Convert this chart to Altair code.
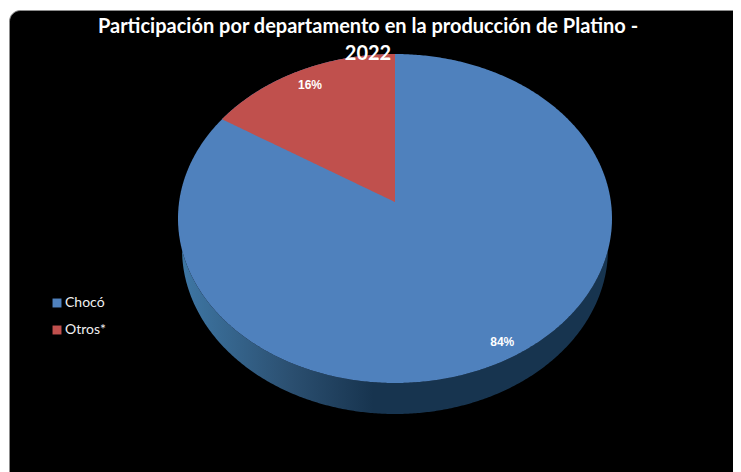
import numpy as np
import pandas as pd
import altair as alt

# ---- values
categories = ["Chocó", "Otros*"]
shares = [84, 16]
share_labels = ["84%", "16%"]
title_lines = ["Participación por departamento en la producción de Platino -", "2022"]

# ---- styling and pie geometry (page pixels)
colors = ["#4F81BD", "#C0504D"]
CX, CY, RX, RY = 395.0, 218.5, 217.0, 164.5
TILT = 0.1      # perspective of the pie plane
K = RX * 0.995
BASE_CY, BASE_RX, BASE_RY = 249.0, 213.0, 165.0
W, H = 725, 464


def project(angle_deg, r=1.0):
    """Point of the tilted pie at clockwise angle from 12 o'clock."""
    a = np.radians(angle_deg)
    u, v = r * np.sin(a), r * np.cos(a)
    d = 1 + TILT * v
    return CX + K * u / d, CY - RY * (v + TILT) / d


def half(x, rx=RX, ry=RY):
    return ry * np.sqrt(np.clip(1 - ((x - CX) / rx) ** 2, 0, 1))


t = np.linspace(-np.pi / 2, np.pi / 2, 361)
xs = CX + RX * np.sin(t)

face = pd.DataFrame({"x": xs, "y": CY - half(xs), "y2": CY + half(xs), "seg": categories[0]})

# wedge of "Otros*" ends at the angle given by its share, counter-clockwise from the top
edge_x, edge_y = project(-shares[1] / sum(shares) * 360)
apex_x, apex_y = project(0, 0)
tw = np.linspace(np.arcsin((edge_x - CX) / RX), 0, 150)
xw = CX + RX * np.sin(tw)
wedge = pd.DataFrame({
    "x": xw,
    "y": CY - half(xw),
    "y2": edge_y + (apex_y - edge_y) * (xw - edge_x) / (apex_x - edge_x),
    "seg": categories[1],
})
faces = pd.concat([face, wedge], ignore_index=True)

lower = CY + half(xs)
base = np.where(np.abs(xs - CX) < BASE_RX, BASE_CY + half(xs, BASE_RX, BASE_RY), lower)
wall = pd.DataFrame({"x": xs, "y": lower, "y2": np.maximum(lower, base)})

xscale = alt.Scale(domain=[8, 8 + W], nice=False, zero=False)
yscale = alt.Scale(domain=[8 + H, 8], nice=False, zero=False)
X = alt.X("x:Q", scale=xscale, axis=None)
Y = alt.Y("y:Q", scale=yscale, axis=None, stack=None)

panel = alt.Chart(pd.DataFrame({"k": [0]})).mark_rect(
    fill="#000000", stroke="#8C8C8C", strokeWidth=1, cornerRadius=11, clip=True
).encode(x=alt.value(1.5), x2=alt.value(W + 30), y=alt.value(2.5), y2=alt.value(H + 30))

side = alt.Chart(wall).mark_area(
    orient="vertical",
    color=alt.Gradient(
        gradient="linear", x1=0, x2=1, y1=0, y2=0,
        stops=[
            alt.GradientStop(offset=0, color="#3F78A6"),
            alt.GradientStop(offset=0.26, color="#2B4F70"),
            alt.GradientStop(offset=0.45, color="#17344F"),
            alt.GradientStop(offset=1, color="#17344F"),
        ],
    ),
).encode(x=X, y=Y, y2="y2:Q")

top = alt.Chart(faces).mark_area(orient="vertical", opacity=1).encode(
    x=X, y=Y, y2="y2:Q",
    color=alt.Color(
        "seg:N",
        scale=alt.Scale(domain=categories, range=colors),
        legend=alt.Legend(
            title=None, orient="none", legendX=42, legendY=288,
            symbolType="square", symbolSize=80, symbolStrokeWidth=0, symbolOpacity=1,
            labelColor="#F0F0F0", labelFont="Lato", labelFontSize=14,
            labelOffset=1, rowPadding=13,
        ),
    ),
)

lab = []
for l, mid, r, nudge in zip(share_labels,
                            [(shares[0] / 2) / 100 * 360, -(shares[1] / 2) / 100 * 360],
                            [0.905, 0.88], [5.0, 0.0]):
    px, py = project(mid, r)
    lab.append({"x": px + nudge, "y": py, "t": l})

labels = alt.Chart(pd.DataFrame(lab)).mark_text(
    font="Liberation Sans", fontSize=12, fontWeight="bold", color="#FFFFFF",
    align="center", baseline="middle",
).encode(x=X, y=Y, text="t:N")

chart = alt.layer(panel, side, top, labels).properties(
    width=W, height=H, padding=0,
    autosize=alt.AutoSizeParams(type="none"),
    background="#FFFFFF",
    title=alt.TitleParams(
        text=title_lines, anchor="start", align="center", frame="group", dx=360, dy=72, offset=0,
        color="#FFFFFF", font="Lato", fontSize=20, fontWeight="bold", lineHeight=27,
        baseline="alphabetic",
    ),
).configure_view(stroke=None)

chart.save("out.html", embed_options={"renderer": "svg", "actions": False})
